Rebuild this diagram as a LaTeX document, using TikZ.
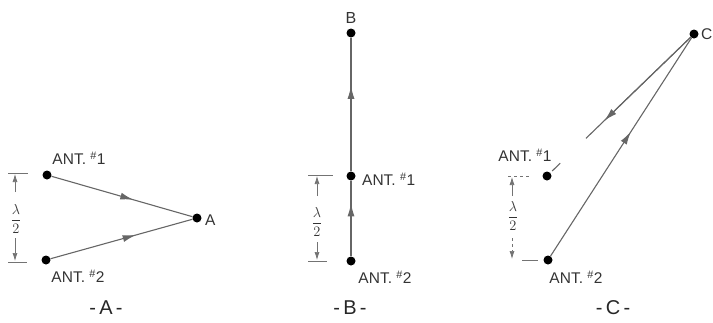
\documentclass[tikz,border=0pt]{standalone}
\usepackage{fontspec}
\setmainfont{Liberation Sans}
\usetikzlibrary{arrows.meta,calc,positioning,decorations.markings}
\tikzset{
  dot/.style={circle,fill=black,inner sep=0pt,minimum size=9pt},
  ant/.style={font=\fontsize{15.5}{15.5}\selectfont,text=black!80,inner sep=0pt},
  tag/.style={font=\fontsize{20}{20}\selectfont,text=black!85,inner sep=0pt},
  ray/.style={black!60,line width=1.1pt},
  midarrow/.style={postaction={decorate},decoration={markings,
      mark=at position #1 with {\arrow{Latex[length=13pt,width=7pt]}}}},
  dim/.style={black!55,line width=0.7pt},
  dimarrow/.style={dim,-{Latex[length=8pt,width=5pt]}},
  frac/.style={font=\fontsize{14}{14}\selectfont,text=black!80,inner sep=1pt},
}
\newcommand{\antno}[1]{ANT.\ \textsuperscript{\#}#1}
\newcommand{\halfwave}{$\displaystyle\frac{\lambda}{2}$}
\begin{document}
\begin{tikzpicture}[x=1pt,y=-1pt]
  \useasboundingbox (0,0) rectangle (713,322);

  % -A-
  \node[dot] (a1) at (47,175) {};
  \node[dot] (a2) at (46,260) {};
  \node[dot] (pa) at (197,218) {};
  \node[ant,anchor=west] (la) at (205,220) {A};
  \node[ant] (la1) at (79,158) {\antno{1}};
  \node[ant] (la2) at (78,276) {\antno{2}};
  \draw[ray,midarrow=0.58] (a1) -- (pa);
  \draw[ray,midarrow=0.60] (a2) -- (pa);
  \draw[dim] (8,173) -- (28,173);
  \draw[dim] (8,262) -- (27,262);
  \node[frac] (fa) at (16,219) {\halfwave};
  \draw[dimarrow] (15,192) -- (15,174);
  \draw[dimarrow] (15,238) -- (15,261);
  \node[tag] (ta) at (106,308) {-\,A\,-};

  % -B-
  \node[dot] (b1) at (351,176) {};
  \node[dot] (b2) at (351,261) {};
  \node[dot] (pb) at (351,33) {};
  \node[ant,font=\fontsize{16}{16}\selectfont] (lb) at (351,18) {B};
  \node[ant,anchor=west] (lb1) at (362,179) {\antno{1}};
  \node[ant] (lb2) at (385,277) {\antno{2}};
  \draw[ray,midarrow=0.64] (b1) -- (pb);
  \draw[ray,midarrow=0.70] (b2) -- (b1);
  \draw[dim] (308,175) -- (333,175);
  \draw[dim] (308,261) -- (327,261);
  \node[frac] (fb) at (317,222) {\halfwave};
  \draw[dimarrow] (317,196) -- (317,176);
  \draw[dimarrow] (317,242) -- (317,260);
  \node[tag] (tb) at (350,308) {-\,B\,-};

  % -C-
  \node[dot] (c1) at (547,176) {};
  \node[dot] (c2) at (548,260) {};
  \node[dot] (pc) at (694,34) {};
  \node[ant,anchor=west] (lc) at (701,34) {C};
  \node[ant] (lc1) at (525,155) {\antno{1}};
  \node[ant] (lc2) at (576,277) {\antno{2}};
  \draw[ray,midarrow=0.57] (c2) -- (pc);
  \draw[ray] (pc) -- ($(pc)!0.735!(c1)$);
  \draw[ray] ($(pc)!0.91!(c1)$) -- ($(pc)!0.965!(c1)$);
  \draw[ray,-{Latex[length=13pt,width=7pt]}] (pc) -- ($(pc)!0.61!(c1)$);
  \draw[dim,dashed] (508,176) -- (531,176);
  \draw[dim] (522,260) -- (538,260);
  \node[frac] (fc) at (513,216) {\halfwave};
  \draw[dimarrow] (512,196) -- (512,177);
  \draw[dimarrow,dashed] (512,238) -- (512,259);
  \node[tag] (tc) at (613,308) {-\,C\,-};
\end{tikzpicture}
\end{document}
